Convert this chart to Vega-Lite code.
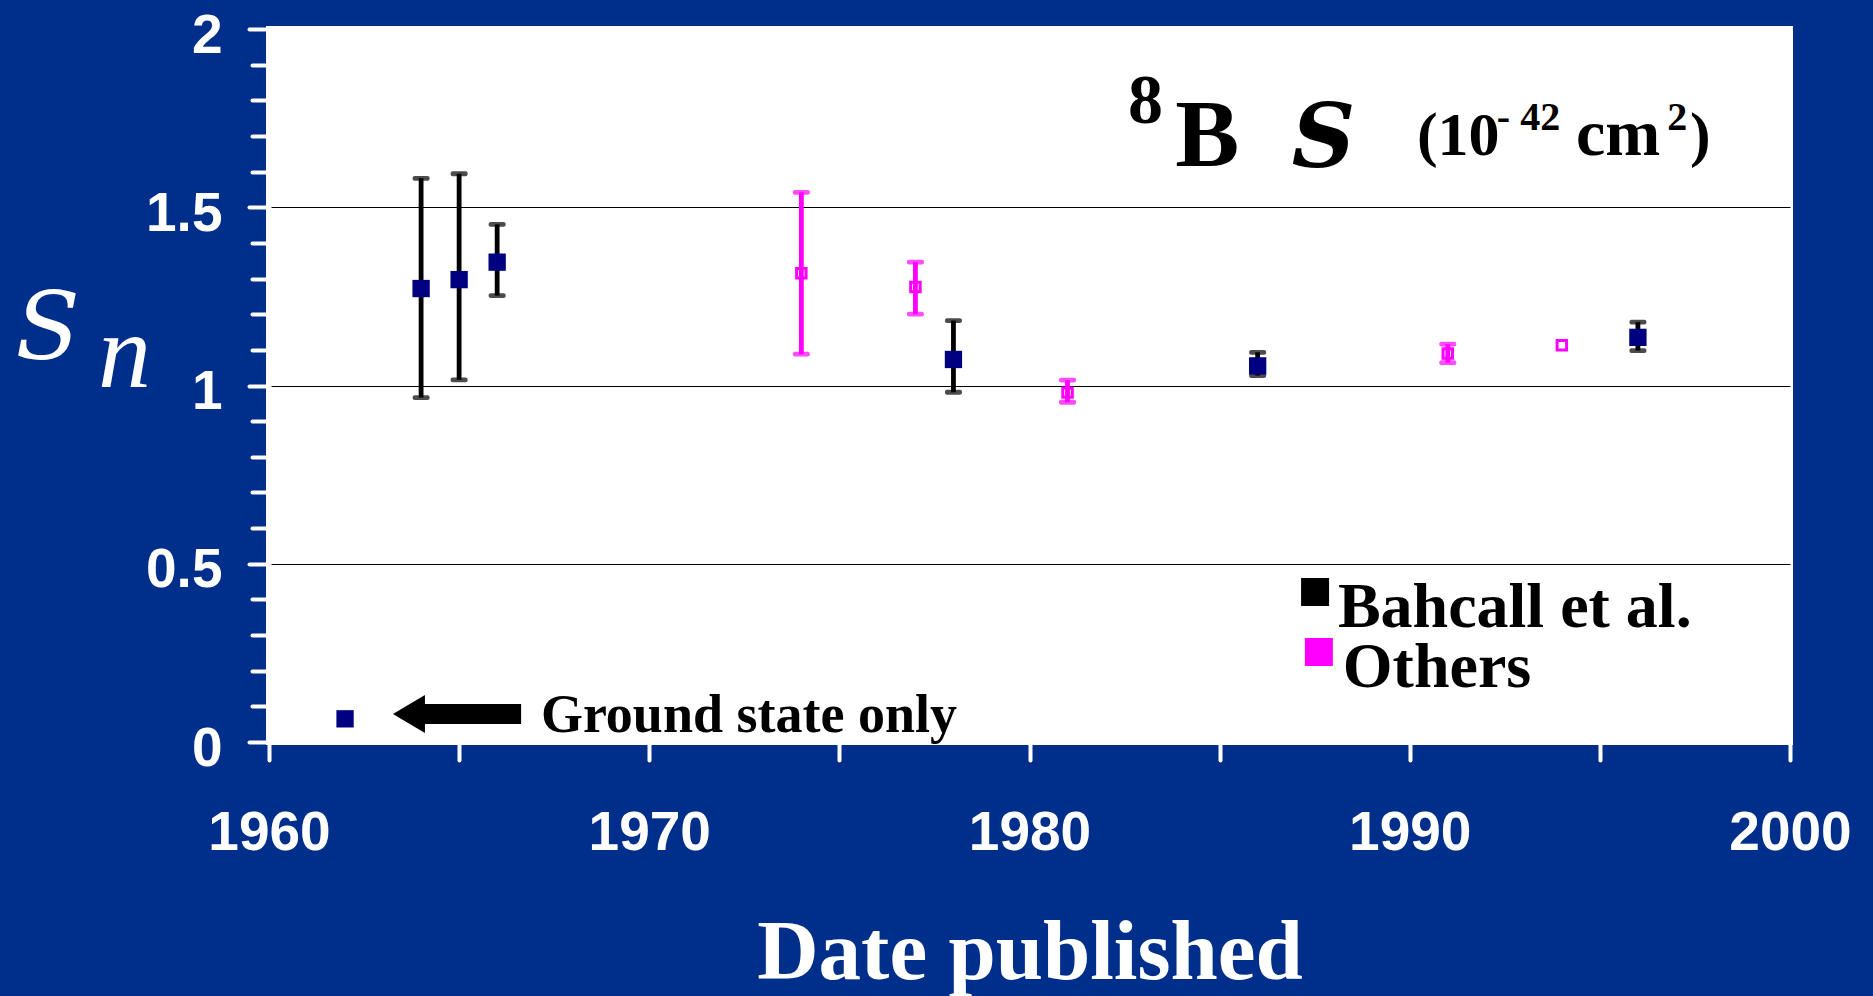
{
  "$schema": "https://vega.github.io/schema/vega-lite/v6.json",
  "width": 1521,
  "height": 713,
  "autosize": {"type": "none"},
  "padding": {"left": 269, "top": 29, "right": 83, "bottom": 254},
  "background": "#002E8B",
  "config": {
    "view": {"fill": "white", "stroke": "white", "strokeWidth": 6}
  },
  "resolve": {"axis": {"x": "independent", "y": "independent"}},
  "data": {
    "values": [
      {"year": 1962, "s": 0.065, "lo": null, "hi": null, "group": "Bahcall et al."},
      {"year": 1964, "s": 1.272, "lo": 0.966, "hi": 1.581, "group": "Bahcall et al."},
      {"year": 1965, "s": 1.297, "lo": 1.016, "hi": 1.594, "group": "Bahcall et al."},
      {"year": 1966, "s": 1.346, "lo": 1.252, "hi": 1.452, "group": "Bahcall et al."},
      {"year": 1978, "s": 1.073, "lo": 0.981, "hi": 1.182, "group": "Bahcall et al."},
      {"year": 1986, "s": 1.055, "lo": 1.028, "hi": 1.093, "group": "Bahcall et al."},
      {"year": 1996, "s": 1.135, "lo": 1.098, "hi": 1.178, "group": "Bahcall et al."},
      {"year": 1974, "s": 1.315, "lo": 1.088, "hi": 1.542, "group": "Others"},
      {"year": 1977, "s": 1.276, "lo": 1.2, "hi": 1.346, "group": "Others"},
      {"year": 1981, "s": 0.98, "lo": 0.953, "hi": 1.015, "group": "Others"},
      {"year": 1991, "s": 1.09, "lo": 1.064, "hi": 1.116, "group": "Others"},
      {"year": 1994, "s": 1.113, "lo": null, "hi": null, "group": "Others"}
    ]
  },
  "layer": [
    {
      "transform": [{"filter": "datum.lo != null"}],
      "mark": {"type": "rule", "strokeWidth": 4.8},
      "encoding": {
        "x": {
          "field": "year", "type": "quantitative",
          "scale": {"domain": [1960, 2000], "nice": false, "zero": false},
          "axis": {
            "orient": "bottom",
            "title": "Date published",
            "titleFont": "Liberation Serif", "titleFontWeight": "bold", "titleFontSize": 85, "titleColor": "white",
            "titleBaseline": "alphabetic", "titleY": 236,
            "values": [1960, 1965, 1970, 1975, 1980, 1985, 1990, 1995, 2000],
            "format": "d",
            "labelExpr": "datum.value % 10 === 0 ? datum.label : ''",
            "labelFont": "Liberation Sans", "labelFontWeight": "bold", "labelFontSize": 55, "labelColor": "white",
            "labelPadding": 46, "labelFlush": false, "labelOverlap": false,
            "ticks": true, "tickColor": "white", "tickSize": 18, "tickWidth": 4, "tickCap": "round",
            "domain": false, "grid": false
          }
        },
        "y": {
          "field": "lo", "type": "quantitative",
          "scale": {"domain": [0, 2], "nice": false},
          "axis": {
            "orient": "left",
            "title": "S",
            "titleFont": "DejaVu Serif", "titleFontStyle": "italic", "titleFontWeight": "normal", "titleFontSize": 94, "titleColor": "white",
            "titleAngle": 0, "titleAlign": "left", "titleBaseline": "alphabetic", "titleX": -254, "titleY": 329,
            "values": [0, 0.1, 0.2, 0.3, 0.4, 0.5, 0.6, 0.7, 0.8, 0.9, 1, 1.1, 1.2, 1.3, 1.4, 1.5, 1.6, 1.7, 1.8, 1.9, 2],
            "format": "~g",
            "labelExpr": "indexof([0, 0.5, 1, 1.5, 2], datum.value) >= 0 ? datum.label : ''",
            "labelFont": "Liberation Sans", "labelFontWeight": "bold", "labelFontSize": 55, "labelColor": "white",
            "labelPadding": 27, "labelOffset": 6, "labelOverlap": false, "labelFlush": false,
            "ticks": true, "tickColor": "white", "tickWidth": 4, "tickCap": "round",
            "tickSize": {"condition": {"test": "indexof([0, 0.5, 1, 1.5, 2], datum.value) >= 0", "value": 20}, "value": 17},
            "domain": false,
            "grid": true, "gridColor": "black", "gridWidth": 1.2,
            "gridOpacity": {"condition": {"test": "indexof([0.5, 1, 1.5], datum.value) >= 0", "value": 1}, "value": 0}
          }
        },
        "y2": {"field": "hi"},
        "color": {"field": "group", "type": "nominal", "scale": {"domain": ["Bahcall et al.", "Others"], "range": ["black", "#FF00FF"]}, "legend": null}
      }
    },
    {
      "transform": [{"filter": "datum.lo != null"}],
      "mark": {"type": "tick", "orient": "horizontal", "size": 17, "thickness": 4.8, "cornerRadius": 2},
      "encoding": {
        "x": {"field": "year", "type": "quantitative", "axis": null},
        "y": {"field": "lo", "type": "quantitative", "axis": null},
        "color": {"field": "group", "type": "nominal", "legend": null}
      }
    },
    {
      "transform": [{"filter": "datum.hi != null"}],
      "mark": {"type": "tick", "orient": "horizontal", "size": 17, "thickness": 4.8, "cornerRadius": 2},
      "encoding": {
        "x": {"field": "year", "type": "quantitative", "axis": null},
        "y": {"field": "hi", "type": "quantitative", "axis": null},
        "color": {"field": "group", "type": "nominal", "legend": null}
      }
    },
    {
      "transform": [{"filter": "datum.group === 'Bahcall et al.'"}],
      "mark": {"type": "point", "shape": "square", "filled": true, "color": "#000080", "opacity": 1, "size": 300},
      "encoding": {
        "x": {"field": "year", "type": "quantitative", "axis": null},
        "y": {"field": "s", "type": "quantitative", "axis": null}
      }
    },
    {
      "transform": [{"filter": "datum.group === 'Others'"}],
      "mark": {"type": "point", "shape": "square", "filled": false, "color": "#FF00FF", "opacity": 1, "strokeWidth": 3, "size": 90},
      "encoding": {
        "x": {"field": "year", "type": "quantitative", "axis": null},
        "y": {"field": "s", "type": "quantitative", "axis": null}
      }
    },
    {
      "data": {"values": [{}]},
      "mark": {"type": "rule", "strokeWidth": 20, "color": "black", "strokeCap": "butt"},
      "encoding": {
        "x": {"datum": 1964.05, "axis": null},
        "x2": {"datum": 1966.63},
        "y": {"datum": 0.0785, "axis": null}
      }
    },
    {
      "data": {"values": [{}]},
      "mark": {"type": "point", "shape": "M -1 0 L 1 -1.19 L 1 1.19 Z", "filled": true, "color": "black", "opacity": 1, "size": 1024},
      "encoding": {
        "x": {"datum": 1963.68, "axis": null},
        "y": {"datum": 0.0785, "axis": null}
      }
    },
    {
      "data": {"values": [{}]},
      "mark": {"type": "text", "text": "Ground state only", "align": "left", "baseline": "alphabetic", "font": "Liberation Serif", "fontWeight": "bold", "fontSize": 54, "color": "black"},
      "encoding": {
        "x": {"datum": 1967.15, "axis": null},
        "y": {"datum": 0.029, "axis": null}
      }
    },
    {
      "data": {"values": [{}]},
      "mark": {"type": "point", "shape": "square", "filled": true, "color": "black", "opacity": 1, "size": 784},
      "encoding": {
        "x": {"datum": 1987.51, "axis": null},
        "y": {"datum": 0.4208, "axis": null}
      }
    },
    {
      "data": {"values": [{}]},
      "mark": {"type": "text", "text": "Bahcall et al.", "align": "left", "baseline": "alphabetic", "font": "Liberation Serif", "fontWeight": "bold", "fontSize": 64, "color": "black"},
      "encoding": {
        "x": {"datum": 1988.11, "axis": null},
        "y": {"datum": 0.3226, "axis": null}
      }
    },
    {
      "data": {"values": [{}]},
      "mark": {"type": "point", "shape": "square", "filled": true, "color": "#FF00FF", "opacity": 1, "size": 784},
      "encoding": {
        "x": {"datum": 1987.61, "axis": null},
        "y": {"datum": 0.2525, "axis": null}
      }
    },
    {
      "data": {"values": [{}]},
      "mark": {"type": "text", "text": "Others", "align": "left", "baseline": "alphabetic", "font": "Liberation Serif", "fontWeight": "bold", "fontSize": 64, "color": "black"},
      "encoding": {
        "x": {"datum": 1988.24, "axis": null},
        "y": {"datum": 0.1543, "axis": null}
      }
    },
    {
      "data": {"values": [{}]},
      "mark": {"type": "text", "text": "8", "align": "left", "baseline": "alphabetic", "font": "Liberation Serif", "fontWeight": "bold", "fontSize": 70, "color": "black"},
      "encoding": {
        "x": {"datum": 1982.59, "axis": null},
        "y": {"datum": 1.736, "axis": null}
      }
    },
    {
      "data": {"values": [{}]},
      "mark": {"type": "text", "text": "B", "align": "left", "baseline": "alphabetic", "font": "Liberation Serif", "fontWeight": "bold", "fontSize": 96, "color": "black"},
      "encoding": {
        "x": {"datum": 1983.83, "axis": null},
        "y": {"datum": 1.616, "axis": null}
      }
    },
    {
      "data": {"values": [{}]},
      "mark": {"type": "text", "text": "S", "align": "left", "baseline": "alphabetic", "font": "DejaVu Serif", "fontStyle": "italic", "fontWeight": "bold", "fontSize": 88, "color": "black"},
      "encoding": {
        "x": {"datum": 1986.9, "axis": null},
        "y": {"datum": 1.614, "axis": null}
      }
    },
    {
      "data": {"values": [{}]},
      "mark": {"type": "text", "text": "(10", "align": "left", "baseline": "alphabetic", "font": "Liberation Serif", "fontWeight": "bold", "fontSize": 62, "color": "black"},
      "encoding": {
        "x": {"datum": 1990.19, "axis": null},
        "y": {"datum": 1.647, "axis": null}
      }
    },
    {
      "data": {"values": [{}]},
      "mark": {"type": "text", "text": "- 42", "align": "left", "baseline": "alphabetic", "font": "Liberation Serif", "fontWeight": "bold", "fontSize": 40, "color": "black"},
      "encoding": {
        "x": {"datum": 1992.29, "axis": null},
        "y": {"datum": 1.717, "axis": null}
      }
    },
    {
      "data": {"values": [{}]},
      "mark": {"type": "text", "text": "cm", "align": "left", "baseline": "alphabetic", "font": "Liberation Serif", "fontWeight": "bold", "fontSize": 66, "color": "black"},
      "encoding": {
        "x": {"datum": 1994.37, "axis": null},
        "y": {"datum": 1.647, "axis": null}
      }
    },
    {
      "data": {"values": [{}]},
      "mark": {"type": "text", "text": "2", "align": "left", "baseline": "alphabetic", "font": "Liberation Serif", "fontWeight": "bold", "fontSize": 40, "color": "black"},
      "encoding": {
        "x": {"datum": 1996.77, "axis": null},
        "y": {"datum": 1.717, "axis": null}
      }
    },
    {
      "data": {"values": [{}]},
      "mark": {"type": "text", "text": ")", "align": "left", "baseline": "alphabetic", "font": "Liberation Serif", "fontWeight": "bold", "fontSize": 62, "color": "black"},
      "encoding": {
        "x": {"datum": 1997.37, "axis": null},
        "y": {"datum": 1.647, "axis": null}
      }
    },
    {
      "data": {"values": [{}]},
      "mark": {"type": "text", "text": "n", "align": "left", "baseline": "alphabetic", "font": "Liberation Serif", "fontStyle": "italic", "fontWeight": "normal", "fontSize": 106, "color": "white"},
      "encoding": {
        "x": {"datum": 1955.5, "axis": null},
        "y": {"datum": 0.9958, "axis": null}
      }
    }
  ]
}
